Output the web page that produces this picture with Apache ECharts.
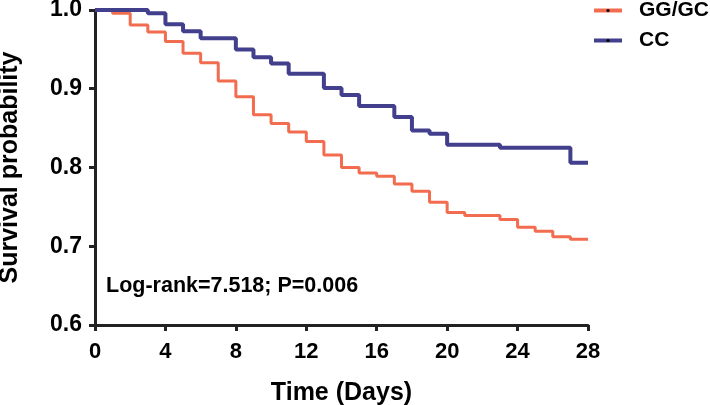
<!DOCTYPE html>
<html>
<head>
<meta charset="utf-8">
<script src="https://cdn.jsdelivr.net/npm/echarts@6/dist/echarts.min.js"></script>
<style>html,body{margin:0;padding:0;background:#fff}#c{width:710px;height:405px}</style>
</head>
<body>
<div id="c"></div>
<script>
const days = [0,1,2,3,4,5,6,7,8,9,10,11,12,13,14,15,16,17,18,19,20,21,22,23,24,25,26,27,28];
const ggGc = [1.0,0.996,0.981,0.972,0.960,0.945,0.933,0.910,0.890,0.867,0.856,0.845,0.833,0.816,0.800,0.793,0.789,0.779,0.770,0.756,0.743,0.739,0.739,0.734,0.724,0.719,0.712,0.709,0.709];
const cc = [1.0,1.0,1.0,0.996,0.982,0.973,0.964,0.964,0.950,0.940,0.932,0.919,0.919,0.901,0.892,0.878,0.878,0.864,0.847,0.843,0.829,0.829,0.829,0.825,0.825,0.825,0.825,0.806,0.806];
const seriesNames = ['GG/GC','CC'];
const xTicks = [0,4,8,12,16,20,24,28];
const yTicks = [0.6,0.7,0.8,0.9,1.0];
const annotation = 'Log-rank=7.518; P=0.006';

const FONT = '"Liberation Sans", Arial, sans-serif';
const AX = '#222';
const chart = echarts.init(document.getElementById('c'));
const pair = (xs, ys) => xs.map((x, i) => [x, ys[i]]);
chart.setOption({
  animation: false,
  backgroundColor: '#fff',
  grid: {left: 95, right: 122, top: 10, bottom: 80, containLabel: false, outerBoundsMode: 'none'},
  legend: {
    data: seriesNames,
    orient: 'vertical',
    left: 592, top: 0, padding: 0,
    itemWidth: 28, itemHeight: 4, itemGap: 9,
    itemStyle: {color: '#000', borderWidth: 0},
    lineStyle: {width: 4},
    textStyle: {fontFamily: FONT, fontWeight: 'bold', fontSize: 21, color: '#000', padding: [0,0,0,12]}
  },
  xAxis: {
    type: 'value', min: xTicks[0], max: xTicks[xTicks.length-1], interval: 4,
    name: 'Time (Days)', nameLocation: 'middle', nameGap: 56,
    nameTextStyle: {fontFamily: FONT, fontWeight: 'bold', fontSize: 25, color: '#000'},
    axisLine: {lineStyle: {color: AX, width: 3}},
    axisTick: {length: 6, lineStyle: {color: AX, width: 3}},
    axisLabel: {margin: 16, fontFamily: FONT, fontWeight: 'bold', fontSize: 22, color: '#000'},
    splitLine: {show: false}
  },
  yAxis: {
    type: 'value', min: yTicks[0], max: yTicks[yTicks.length-1], interval: 0.1,
    name: 'Survival probability', nameLocation: 'middle', nameGap: 72,
    nameTextStyle: {fontFamily: FONT, fontWeight: 'bold', fontSize: 25, color: '#000'},
    axisLine: {show: true, lineStyle: {color: AX, width: 3}},
    axisTick: {show: true, length: 6, lineStyle: {color: AX, width: 3}},
    axisLabel: {margin: 13, fontFamily: FONT, fontWeight: 'bold', fontSize: 23, color: '#000', formatter: v => v.toFixed(1)},
    splitLine: {show: false}
  },
  graphic: [{
    type: 'text', left: 106, top: 275,
    style: {text: annotation, fontFamily: FONT, fontWeight: 'bold', fontSize: 21.5, fill: '#000'}
  }],
  series: [
    {name: seriesNames[0], type: 'line', step: 'end', data: pair(days, ggGc), symbol: 'circle', showSymbol: false, clip: false,
     itemStyle: {color: '#F26C4F'}, lineStyle: {color: '#F26C4F', width: 3}},
    {name: seriesNames[1], type: 'line', step: 'end', data: pair(days, cc), symbol: 'circle', showSymbol: false, clip: false,
     itemStyle: {color: '#423F8D'}, lineStyle: {color: '#423F8D', width: 4}}
  ]
});
</script>
</body>
</html>
